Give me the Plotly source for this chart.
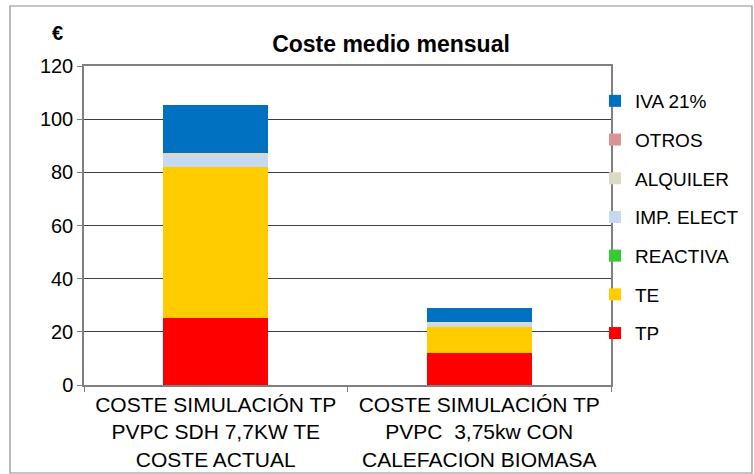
import plotly.graph_objects as go

categories = [
    "COSTE SIMULACIÓN TP<br>PVPC SDH 7,7KW TE<br>COSTE ACTUAL",
    "COSTE SIMULACIÓN TP<br>PVPC  3,75kw CON<br>CALEFACION BIOMASA",
]
series_names = ["TP", "TE", "REACTIVA", "IMP. ELECT", "ALQUILER", "OTROS", "IVA 21%"]
tp = [25.3, 12.2]
te = [56.8, 9.6]
reactiva = [0.0, 0.0]
imp_elect = [4.4, 1.2]
alquiler = [0.7, 0.8]
otros = [0.0, 0.0]
iva = [18.2, 5.0]
colors = ["#FF0000", "#FFCC00", "#33CC33", "#C6D9F1", "#DDD9C3", "#D99594", "#0070C0"]
y_ticks = [0, 20, 40, 60, 80, 100, 120]

values = [tp, te, reactiva, imp_elect, alquiler, otros, iva]

fig = go.Figure()
n = len(series_names)
for i, (name, vals, col) in enumerate(zip(series_names, values, colors)):
    fig.add_trace(go.Bar(
        x=categories, y=vals, name=name, legendgroup=name, legendrank=n - i,
        marker=dict(color=col, line=dict(width=0)),
        width=0.4,
    ))

FONT = "Liberation Sans, Arial, sans-serif"
L, R, T, B = 84, 611, 66, 385
W, H = 754, 474
pw, ph = R - L, B - T

def px_x(x):
    return (x - L) / pw

def px_y(y):
    return (B - y) / ph

fig.update_layout(
    width=W, height=H,
    margin=dict(l=L, r=W - R, t=T, b=H - B, autoexpand=False),
    barmode="stack",
    plot_bgcolor="white", paper_bgcolor="white",
    font=dict(family=FONT, size=20, color="black"),
    title=dict(text="<b>Coste medio mensual</b>", x=391 / W, xref="container", xanchor="center",
               y=1 - 44 / H, yref="container", yanchor="middle",
               font=dict(family=FONT, size=23, color="black")),
    showlegend=True,
    legend=dict(x=px_x(595), y=px_y(82), xanchor="left", yanchor="top",
                traceorder="grouped", tracegroupgap=11,
                font=dict(family=FONT, size=19, color="black"),
                bgcolor="rgba(0,0,0,0)", itemwidth=30),
    xaxis=dict(showline=True, linecolor="#808080", linewidth=1.5, mirror=True,
               ticks="outside", tickson="boundaries", ticklen=5, tickcolor="#808080",
               showgrid=False, automargin=False,
               tickfont=dict(family=FONT, size=21, color="black")),
    yaxis=dict(range=[0, 120], tickvals=y_ticks, showline=True, linecolor="#808080", linewidth=1.5,
               mirror=True, ticks="outside", ticklen=5, tickcolor="#808080",
               showgrid=True, gridcolor="#404040", gridwidth=1, zeroline=False, automargin=False,
               tickfont=dict(family=FONT, size=20, color="black")),
)

fig.add_annotation(text="<b>€</b>", x=px_x(57), y=px_y(33), xref="paper", yref="paper",
                   xanchor="center", yanchor="middle",
                   showarrow=False, font=dict(family=FONT, size=20, color="black"))

fig.add_shape(type="rect", xref="paper", yref="paper",
              x0=px_x(10), x1=px_x(752), y0=px_y(473), y1=px_y(6),
              line=dict(color="#8c8c8c", width=1.2), layer="below")

fig.write_html("out.html", post_script="document.body.style.margin='0';",
               config={"displayModeBar": False})
